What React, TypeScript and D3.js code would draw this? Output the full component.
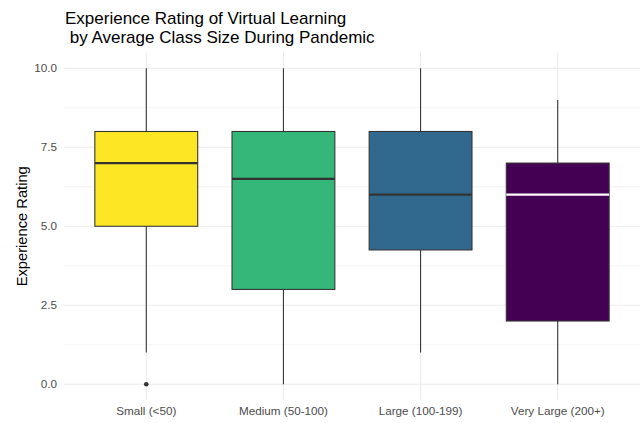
import * as d3 from "d3";
import React from "react";

const categories = ["Small (<50)", "Medium (50-100)", "Large (100-199)", "Very Large (200+)"];
const whiskerLow = [1, 0, 1, 0];
const q1 = [5, 3, 4.25, 2];
const medians = [7, 6.5, 6, 6];
const q3 = [8, 8, 8, 7];
const whiskerHigh = [10, 10, 10, 9];
const outliers: number[][] = [[0], [], [], []];
const fills = ["#FDE725", "#35B779", "#31688E", "#440154"];
const medianColors = ["#333333", "#333333", "#333333", "#FFFFFF"];
const yTicks = [0, 2.5, 5, 7.5, 10];
const yMinor = [1.25, 3.75, 6.25, 8.75];

const width = 643;
const height = 423;
const panel = { left: 64, right: 640, top: 52.5, bottom: 400 };
const font = "'Liberation Sans', Arial, sans-serif";

export default function App() {
  const x = d3.scalePoint<string>().domain(categories).range([panel.left, panel.right]).padding(0.6);
  const y = d3.scaleLinear().domain([-0.5, 10.5]).range([panel.bottom, panel.top]);
  const boxW = x.step() * 0.75;

  return (
    <svg width={width} height={height} style={{ position: "absolute", left: 0, top: 0, background: "#fff" }}>
      {/* grid */}
      {yMinor.map((t) => (
        <line key={"mi" + t} x1={panel.left} x2={panel.right} y1={y(t)} y2={y(t)} stroke="#EBEBEB" strokeWidth={0.55} />
      ))}
      {yTicks.map((t) => (
        <line key={"ma" + t} x1={panel.left} x2={panel.right} y1={y(t)} y2={y(t)} stroke="#EBEBEB" strokeWidth={1.07} />
      ))}
      {categories.map((c) => (
        <line key={"v" + c} x1={x(c)} x2={x(c)} y1={panel.top} y2={panel.bottom} stroke="#EBEBEB" strokeWidth={1.07} />
      ))}

      {/* boxes */}
      {categories.map((c, i) => {
        const cx = x(c)!;
        return (
          <g key={c}>
            <line x1={cx} x2={cx} y1={y(q3[i])} y2={y(whiskerHigh[i])} stroke="#333333" strokeWidth={1.07} />
            <line x1={cx} x2={cx} y1={y(q1[i])} y2={y(whiskerLow[i])} stroke="#333333" strokeWidth={1.07} />
            <rect
              x={cx - boxW / 2}
              y={y(q3[i])}
              width={boxW}
              height={y(q1[i]) - y(q3[i])}
              fill={fills[i]}
              stroke="#333333"
              strokeWidth={1.07}
            />
            <line
              x1={cx - boxW / 2}
              x2={cx + boxW / 2}
              y1={y(medians[i])}
              y2={y(medians[i])}
              stroke={medianColors[i]}
              strokeWidth={2.13}
            />
            {outliers[i].map((o, j) => (
              <circle key={j} cx={cx} cy={y(o)} r={2.3} fill="#333333" />
            ))}
          </g>
        );
      })}

      {/* y axis labels */}
      {yTicks.map((t) => (
        <text
          key={"yl" + t}
          x={57}
          y={y(t)}
          dy="0.35em"
          textAnchor="end"
          fontFamily={font}
          fontSize={11.7}
          fill="#4D4D4D"
        >
          {d3.format(".1f")(t)}
        </text>
      ))}

      {/* x axis labels */}
      {categories.map((c) => (
        <text key={"xl" + c} x={x(c)} y={415} textAnchor="middle" fontFamily={font} fontSize={11.7} fill="#4D4D4D">
          {c}
        </text>
      ))}

      {/* axis title */}
      <text
        transform={`translate(27,${(panel.top + panel.bottom) / 2}) rotate(-90)`}
        textAnchor="middle"
        fontFamily={font}
        fontSize={14.7}
        fill="#000"
      >
        Experience Rating
      </text>

      {/* title */}
      <text fontFamily={font} fontSize={17} fill="#000" style={{ whiteSpace: "pre" }}>
        <tspan x={65} y={24}>Experience Rating of Virtual Learning</tspan>
        <tspan x={65} y={43}>{" by Average Class Size During Pandemic"}</tspan>
      </text>
    </svg>
  );
}
